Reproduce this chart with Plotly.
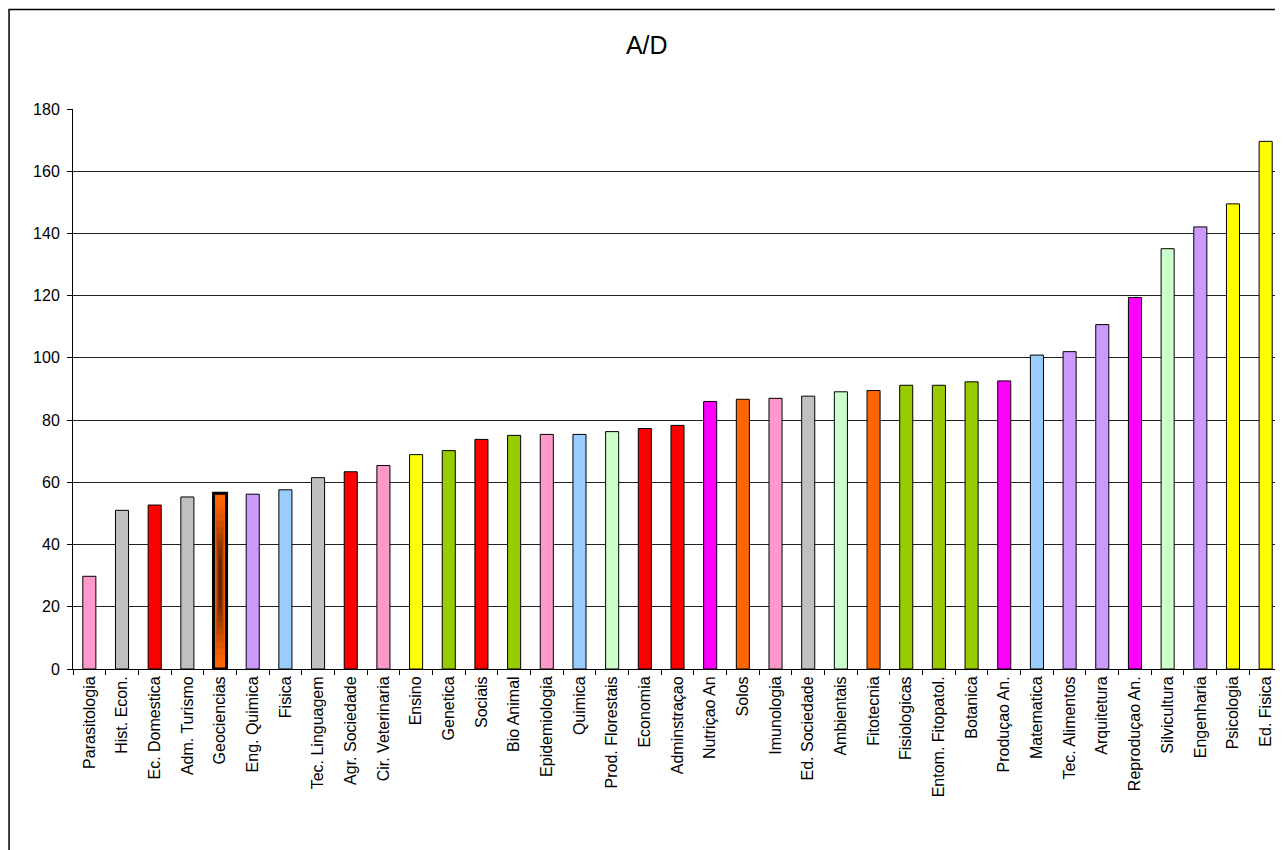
import plotly.graph_objects as go

categories = ["Parasitologia", "Hist. Econ.", "Ec. Domestica", "Adm. Turismo", "Geociencias",
              "Eng. Quimica", "Fisica", "Tec. Linguagem", "Agr. Sociedade", "Cir. Veterinaria",
              "Ensino", "Genetica", "Sociais", "Bio Animal", "Epidemiologia", "Quimica",
              "Prod. Florestais", "Economia", "Adminstraçao", "Nutriçao An", "Solos", "Imunologia",
              "Ed. Sociedade", "Ambientais", "Fitotecnia", "Fisiologicas", "Entom. Fitopatol.",
              "Botanica", "Produçao An.", "Matematica", "Tec. Alimentos", "Arquitetura",
              "Reproduçao An.", "Silvicultura", "Engenharia", "Psicologia", "Ed. Fisica"]
values = [29.8, 51.0, 52.7, 55.3, 56.5, 56.2, 57.6, 61.5, 63.4, 65.4,
          68.9, 70.2, 73.8, 75.1, 75.4, 75.4, 76.3, 77.3, 78.3, 86.0, 86.7, 87.0,
          87.7, 89.1, 89.5, 91.2, 91.2, 92.3, 92.6, 100.9, 102.0, 110.7,
          119.4, 135.1, 142.1, 149.5, 169.6]
color_groups = ["pink", "gray", "red", "gray", "orange", "lavender", "lightblue", "gray", "red", "pink",
                "yellow", "green", "red", "green", "pink", "lightblue", "lightgreen", "red", "red",
                "magenta", "orange", "pink", "gray", "lightgreen", "orange", "green", "green", "green",
                "magenta", "lightblue", "lavender", "lavender", "magenta", "lightgreen", "lavender",
                "yellow", "yellow"]
highlight = "Geociencias"

palette = {"pink": "#FF99CC", "gray": "#C0C0C0", "red": "#FF0000", "orange": "#FF6600",
           "lavender": "#CC99FF", "lightblue": "#99CCFF", "yellow": "#FFFF00", "green": "#99CC00",
           "lightgreen": "#CCFFCC", "magenta": "#FF00FF"}

bar_w = 0.4
colors = [palette[g] for g in color_groups]
line_w = [3 if c == highlight else 1 for c in categories]

fig = go.Figure()
fig.add_trace(go.Bar(x=categories, y=values, width=bar_w,
                     marker=dict(color=colors, line=dict(color="#000000", width=line_w)),
                     showlegend=False, hoverinfo="x+y"))

# gradient overlay on highlighted bar (orange edges -> dark brown center)
hi = categories.index(highlight)
hv = values[hi]
n_layers = 10
for k in range(1, n_layers + 1):
    f = k / n_layers
    vy = 0.38 * f      # vertical inset fraction
    wf = 1 - 0.8 * f   # width fraction
    r = int(255 + (60 - 255) * f)
    g = int(102 + (20 - 102) * f)
    fig.add_trace(go.Bar(x=[highlight], y=[hv * (1 - 2 * vy) - 0.4], base=[hv * vy + 0.2],
                         width=[(bar_w - 0.06) * wf],
                         marker=dict(color=f"rgba({r},{g},0,0.35)", line=dict(width=0)),
                         showlegend=False, hoverinfo="skip"))

fig.update_layout(
    width=1275, height=842,
    barmode="overlay",
    paper_bgcolor="#FFFFFF", plot_bgcolor="#FFFFFF",
    margin=dict(l=65, r=1, t=101, b=181),
    font=dict(family="Liberation Sans, Arial, sans-serif", color="#000000", size=16),
    title=dict(text="A/D", x=0.501, xanchor="center", y=0.956, yanchor="middle",
               font=dict(size=25, family="Liberation Sans, Arial, sans-serif", color="#000000")),
    xaxis=dict(type="category", tickangle=-90, ticks="outside", tickson="boundaries",
               ticklen=5, tickcolor="#000000", showline=True, linecolor="#000000", linewidth=1,
               showgrid=False, tickfont=dict(size=16), range=[-0.5, len(categories) - 0.5]),
    yaxis=dict(range=[0, 180], dtick=20, ticks="outside", ticklen=5, tickcolor="#000000",
               showline=True, linecolor="#000000", linewidth=1, showgrid=True,
               gridcolor="#222222", gridwidth=1, tickfont=dict(size=16), zeroline=False,
               ticklabelstandoff=4),
    shapes=[
        dict(type="rect", xref="paper", yref="paper", x0=-0.0529, x1=1.01, y0=-0.36, y1=1.1777,
             line=dict(color="#000000", width=1.5), fillcolor="rgba(0,0,0,0)", layer="below"),
        dict(type="line", xref="paper", yref="paper", x0=1, x1=1, y0=0, y1=1,
             line=dict(color="#808080", width=1)),
    ],
)

fig.write_html("out.html")
